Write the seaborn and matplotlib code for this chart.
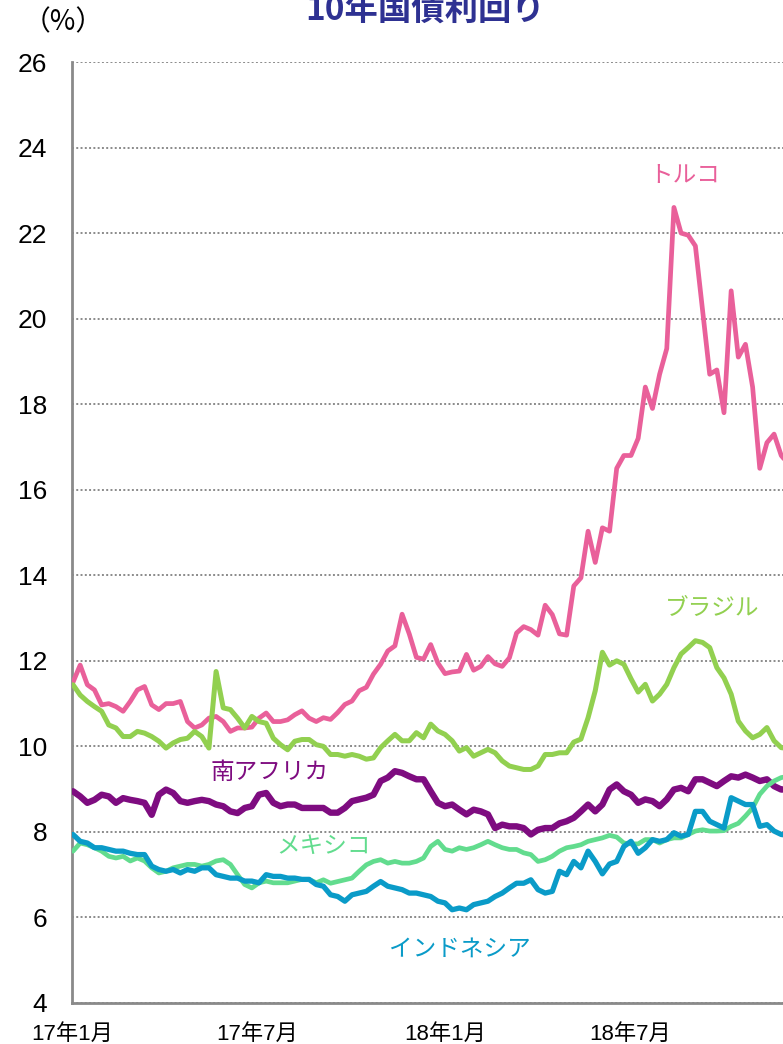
import matplotlib
matplotlib.use("Agg")
import matplotlib.pyplot as plt
import matplotlib.dates as mdates
from matplotlib.ticker import FuncFormatter
import pandas as pd
import seaborn as sns

# Weekly observations, 10-year government bond yields (%)
start_date = "2017-01-02"
n_weeks = 101

turkey = [11.5, 11.9, 11.44, 11.32, 10.97, 11.0, 10.93, 10.82, 11.05, 11.32,
          11.4, 10.97, 10.86, 11.0, 11.0, 11.05, 10.58, 10.43, 10.5, 10.66,
          10.7, 10.58, 10.35, 10.43, 10.43, 10.45, 10.66, 10.78, 10.58, 10.58,
          10.62, 10.74, 10.83, 10.66, 10.58,
          10.67, 10.63, 10.79, 10.98, 11.06, 11.3, 11.38, 11.69, 11.92, 12.23,
          12.35, 13.09, 12.63, 12.08, 12.04,
          12.38, 11.95, 11.7, 11.74, 11.76, 12.15, 11.78, 11.87, 12.1, 11.93,
          11.87, 12.07, 12.65, 12.8, 12.73, 12.6, 13.3, 13.08, 12.63, 12.6,
          13.75, 13.94, 15.03, 14.3, 15.11, 15.03, 16.5, 16.8, 16.8, 17.2,
          18.4, 17.9, 18.7, 19.3, 22.6, 22.0, 21.95, 21.7, 20.2, 18.7,
          18.8, 17.8, 20.65, 19.1, 19.4, 18.4, 16.5, 17.1, 17.3, 16.8, 16.6]

brazil = [11.44, 11.2, 11.05, 10.93, 10.82, 10.5, 10.43, 10.23, 10.23, 10.35,
          10.31, 10.23, 10.12, 9.96, 10.08, 10.16, 10.19, 10.35, 10.23, 9.96,
          11.75, 10.9, 10.86, 10.66, 10.43, 10.7, 10.58, 10.54, 10.19, 10.04,
          9.92, 10.12, 10.16, 10.16, 10.04,
          10.0, 9.81, 9.81, 9.77, 9.81, 9.77, 9.7, 9.73, 9.97, 10.13,
          10.28, 10.13, 10.13, 10.32, 10.2, 10.52, 10.36, 10.28, 10.13, 9.89,
          9.97, 9.77, 9.85, 9.93, 9.85, 9.66, 9.54, 9.5, 9.46, 9.46,
          9.54, 9.81, 9.81,
          9.85, 9.85, 10.1, 10.17, 10.67, 11.3, 12.2, 11.9, 12.0, 11.92,
          11.58, 11.27, 11.45, 11.06, 11.22, 11.45, 11.84, 12.16, 12.31, 12.47,
          12.43, 12.31, 11.84, 11.6, 11.22, 10.59, 10.36, 10.2, 10.28, 10.44,
          10.13, 9.97, 9.95]

south_africa = [8.95, 8.83, 8.68, 8.75, 8.87, 8.83, 8.68, 8.79, 8.75, 8.72,
                8.68, 8.4, 8.87, 8.99, 8.91, 8.72, 8.68, 8.72, 8.75, 8.72,
                8.64, 8.6, 8.48, 8.44, 8.56, 8.6, 8.87, 8.91, 8.68, 8.6,
                8.64, 8.64, 8.56, 8.56, 8.56,
                8.56, 8.45, 8.45, 8.56, 8.72, 8.76, 8.8, 8.87, 9.19, 9.27,
                9.42, 9.38, 9.3, 9.23, 9.23, 8.95, 8.68, 8.6, 8.64, 8.52,
                8.41, 8.52, 8.48, 8.41, 8.09, 8.17, 8.13, 8.13, 8.09, 7.94,
                8.05, 8.09, 8.09, 8.2, 8.25, 8.33, 8.48, 8.64, 8.48, 8.64,
                8.99, 9.11,
                8.95, 8.87, 8.68, 8.76, 8.72, 8.6, 8.76, 8.99, 9.03, 8.95,
                9.23, 9.23, 9.15, 9.07, 9.19, 9.3, 9.27, 9.34, 9.27, 9.19,
                9.23, 9.07, 8.99, 9.0]

mexico = [7.55, 7.74, 7.7, 7.63, 7.55, 7.43, 7.39, 7.43, 7.32, 7.39,
          7.32, 7.16, 7.04, 7.08, 7.16, 7.2, 7.24, 7.24, 7.2, 7.24,
          7.32, 7.35, 7.24, 7.0, 6.77, 6.69, 6.81, 6.85, 6.81, 6.81,
          6.81, 6.85, 6.89, 6.89, 6.81,
          6.88, 6.8, 6.84, 6.88, 6.92, 7.08, 7.23, 7.31, 7.35, 7.27,
          7.31, 7.27, 7.27, 7.31, 7.39, 7.66, 7.78, 7.59, 7.55, 7.63,
          7.59, 7.63, 7.7, 7.78, 7.7, 7.63, 7.59, 7.59, 7.51, 7.47,
          7.31, 7.35, 7.43, 7.55, 7.63, 7.66, 7.7, 7.78, 7.82, 7.86,
          7.92, 7.88, 7.74, 7.72, 7.72, 7.82, 7.82, 7.74, 7.82, 7.86,
          7.86, 7.94, 8.02, 8.05, 8.02, 8.02, 8.03, 8.13, 8.2, 8.37,
          8.56, 8.88, 9.07, 9.19, 9.27, 9.3]

indonesia = [7.94, 7.78, 7.74, 7.63, 7.63, 7.59, 7.55, 7.55, 7.5, 7.47,
             7.47, 7.2, 7.12, 7.08, 7.12, 7.04, 7.12, 7.08, 7.16, 7.16,
             7.0, 6.96, 6.92, 6.92, 6.85, 6.85, 6.81, 7.0, 6.96, 6.96,
             6.92, 6.92, 6.89, 6.89, 6.77,
             6.73, 6.53, 6.49, 6.38, 6.53, 6.57, 6.61, 6.73, 6.84, 6.73,
             6.69, 6.65, 6.57, 6.57, 6.53, 6.49, 6.38, 6.34, 6.18, 6.22,
             6.18, 6.3, 6.34, 6.38, 6.49, 6.57, 6.69, 6.8, 6.8, 6.88,
             6.65, 6.57, 6.61, 7.08, 7.0, 7.31, 7.16, 7.55, 7.31,
             7.02, 7.25, 7.31, 7.66, 7.78, 7.5, 7.63, 7.82, 7.78, 7.82,
             7.98, 7.9, 7.94, 8.48, 8.48, 8.25, 8.17, 8.09, 8.8, 8.72,
             8.64, 8.64, 8.13, 8.17, 8.02, 7.94, 7.92]

series_names = ["トルコ", "ブラジル", "南アフリカ", "メキシコ", "インドネシア"]
series_values = [turkey, brazil, south_africa, mexico, indonesia]
series_colors = ["#E9609A", "#92D050", "#7E0C80", "#62DC8E", "#0A9BC8"]
series_widths = [3.4, 3.6, 4.6, 3.4, 3.8]

# Label anchor (date, value) for each series name
label_dates = ["2018-08-24", "2018-09-19", "2017-07-13", "2017-09-04", "2018-01-16"]
label_values = [23.38, 13.23, 9.40, 7.67, 5.26]

title_text = "10年国債利回り"
unit_text = "（%）"
y_ticks = list(range(4, 27, 2))

dates = pd.date_range(start_date, periods=n_weeks, freq="7D")

sns.set_theme(style="white")
plt.rcParams["font.family"] = ["Liberation Sans", "Noto Sans CJK JP", "DejaVu Sans"]

fig = plt.figure(figsize=(7.83, 10.44), dpi=100)
# axes run past the right figure edge so the series continue out of frame
ax = fig.add_axes([72 / 783, 41 / 1044, 745 / 783, 941 / 1044])

for name, vals, col, lw in zip(series_names, series_values, series_colors, series_widths):
    df = pd.DataFrame({"date": dates, "value": vals})
    sns.lineplot(data=df, x="date", y="value", color=col, linewidth=lw, ax=ax,
                 solid_joinstyle="round", solid_capstyle="round", zorder=3)

for name, d, v, col in zip(series_names, label_dates, label_values, series_colors):
    ax.text(pd.Timestamp(d), v, name, color=col, fontsize=17,
            family=["Noto Sans CJK JP"], ha="center", va="center", zorder=4)

ax.set_xlim(pd.Timestamp("2017-01-01"), pd.Timestamp("2018-12-31"))
ax.set_ylim(4, 26)
ax.set_yticks(y_ticks)
ax.set_xlabel("")
ax.set_ylabel("")

ax.xaxis.set_major_locator(mdates.MonthLocator(bymonth=[1, 7]))
ax.xaxis.set_minor_locator(mdates.MonthLocator())
ax.xaxis.set_major_formatter(FuncFormatter(
    lambda x, pos: f"{mdates.num2date(x).year % 100}年{mdates.num2date(x).month}月"))

spine_color = "#8A8A8A"
for side in ["top", "right"]:
    ax.spines[side].set_visible(False)
for side in ["left", "bottom"]:
    ax.spines[side].set_color(spine_color)
    ax.spines[side].set_linewidth(2.0)

ax.tick_params(axis="y", length=0, pad=18, labelsize=19, labelcolor="black")
ax.tick_params(axis="x", which="major", direction="inout", length=8, width=1.8,
               color=spine_color, pad=11, labelsize=16, labelcolor="black")
ax.tick_params(axis="x", which="minor", direction="in", length=3.5, width=1.5,
               color=spine_color)

ax.set_axisbelow(True)
ax.yaxis.grid(True, color="#8A8A8A", linestyle=(0, (1, 1.2)), linewidth=1.4)
ax.xaxis.grid(False)

fig.text(425 / 783, 1 - 11 / 1044, title_text, color="#2E3192", fontsize=24,
         fontweight="bold", family=["Noto Sans CJK JP"], ha="center", va="center")
fig.text(63 / 783, 1 - 22 / 1044, unit_text, color="black", fontsize=20,
         family=["Noto Sans CJK JP"], ha="center", va="center")

fig.savefig("out.png", dpi=100)
